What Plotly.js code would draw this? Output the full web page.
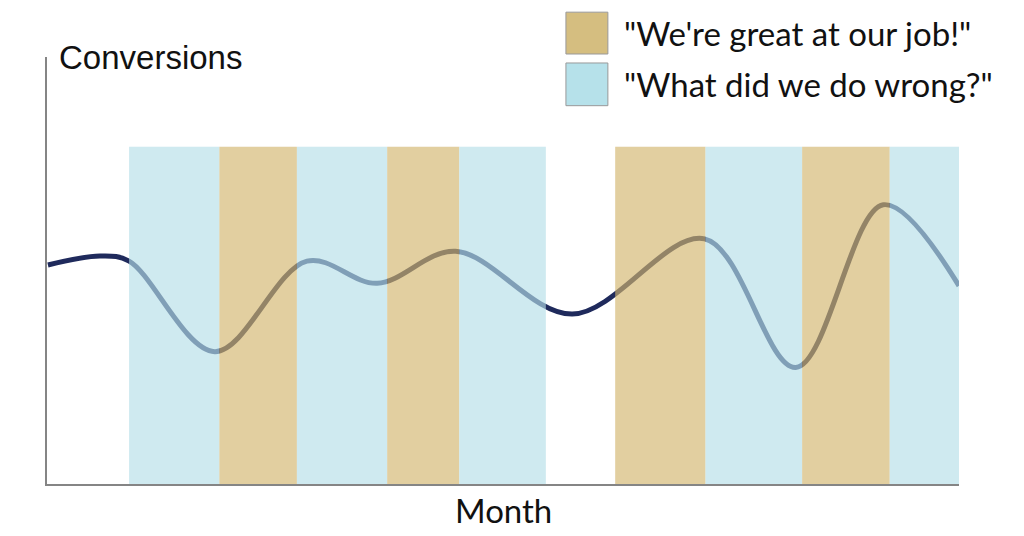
<!DOCTYPE html>
<html>
<head>
<meta charset="utf-8">
<script src="https://cdn.plot.ly/plotly-3.0.1.min.js"></script>
<style>html,body{margin:0;padding:0;background:#fff;}#chart{width:1024px;height:536px;}</style>
</head>
<body>
<div id="chart"></div>
<script>
// Conversions over time (time axis 0..100, value axis 0..100)
const timeX = [0.1, 5.8, 9.0, 18.4, 28.5, 36.2, 44.8, 57.6, 72.1, 82.1, 91.7, 100];
const conversions = [51.3, 53.4, 52.2, 31.0, 52.2, 47.0, 54.5, 39.8, 57.4, 27.3, 65.4, 46.4];

// Shaded periods
const bandStart = [9.0, 18.9, 27.4, 37.3, 45.2, 62.3, 72.2, 82.8, 92.4];
const bandEnd   = [18.9, 27.4, 37.3, 45.2, 54.7, 72.2, 82.8, 92.4, 100.3];
const bandType  = ['wrong', 'great', 'wrong', 'great', 'wrong', 'great', 'wrong', 'great', 'wrong'];
const bandTop = 79;

const legendLabels = {great: '"We\'re great at our job!"', wrong: '"What did we do wrong?"'};
const axisTitles = {x: 'Month', y: 'Conversions'};

const bandFill = {great: 'rgb(211,181,109)', wrong: 'rgb(182,223,232)'};
const legendFill = {great: 'rgb(213,190,128)', wrong: 'rgb(182,225,234)'};

const shapes = bandType.map((t, i) => ({
  type: 'rect', xref: 'x', yref: 'y', layer: 'above',
  x0: bandStart[i], x1: bandEnd[i], y0: 0, y1: bandTop,
  fillcolor: bandFill[t], opacity: 0.65, line: {width: 0}
}));

// legend boxes
shapes.push({type: 'rect', xref: 'paper', yref: 'paper', x0: 0.569, x1: 0.615, y0: 1.007, y1: 1.105,
  fillcolor: legendFill.great, line: {color: '#999', width: 1}});
shapes.push({type: 'rect', xref: 'paper', yref: 'paper', x0: 0.569, x1: 0.615, y0: 0.886, y1: 0.986,
  fillcolor: legendFill.wrong, line: {color: '#999', width: 1}});

const annotations = [
  {xref: 'paper', yref: 'paper', x: 0.6305, y: 1.056, xanchor: 'left', yanchor: 'middle', showarrow: false,
   text: legendLabels.great, font: {family: 'Lato', size: 33, color: '#111'}},
  {xref: 'paper', yref: 'paper', x: 0.6305, y: 0.937, xanchor: 'left', yanchor: 'middle', showarrow: false,
   text: legendLabels.wrong, font: {family: 'Lato', size: 33, color: '#111'}},
  {xref: 'paper', yref: 'paper', x: 0.011, y: 0.998, xanchor: 'left', yanchor: 'middle', showarrow: false,
   text: axisTitles.y, font: {family: 'Liberation Sans', size: 33, color: '#111'}},
  {xref: 'paper', yref: 'paper', x: 0.5, y: -0.061, xanchor: 'center', yanchor: 'middle', showarrow: false,
   text: axisTitles.x, font: {family: 'Lato', size: 33, color: '#111'}}
];

const trace = {
  x: timeX, y: conversions, type: 'scatter', mode: 'lines',
  line: {color: '#1f2a5c', width: 5, shape: 'spline', smoothing: 1},
  cliponaxis: false, hoverinfo: 'skip', showlegend: false
};

const layout = {
  width: 1024, height: 536,
  margin: {l: 47, r: 65, t: 57, b: 52},
  paper_bgcolor: '#fff', plot_bgcolor: '#fff',
  showlegend: false,
  xaxis: {range: [0, 100], showline: true, linecolor: '#858585', linewidth: 2, showgrid: false,
          zeroline: false, showticklabels: false, ticks: ''},
  yaxis: {range: [0, 100], showline: true, linecolor: '#858585', linewidth: 2, showgrid: false,
          zeroline: false, showticklabels: false, ticks: ''},
  shapes: shapes,
  annotations: annotations
};

Plotly.newPlot('chart', [trace], layout, {displayModeBar: false, staticPlot: true});
</script>
</body>
</html>
